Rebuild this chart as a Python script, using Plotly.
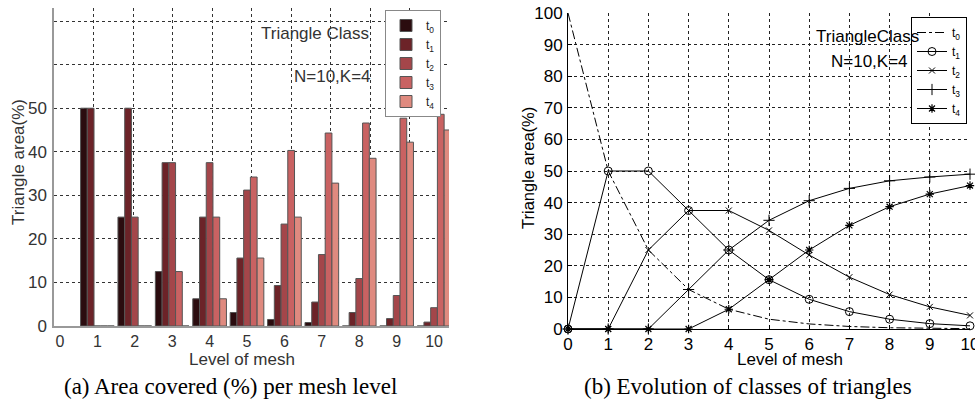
import plotly.graph_objects as go

# ---------------- data ----------------
bar_levels = [1, 2, 3, 4, 5, 6, 7, 8, 9, 10]
bar_t0 = [50, 25, 12.5, 6.25, 3.1, 1.5, 0.8, 0, 0, 0]
bar_t1 = [50, 50, 37.5, 25, 15.6, 9.3, 5.5, 3.1, 1.7, 0.9]
bar_t2 = [0, 25, 37.5, 37.5, 31.2, 23.4, 16.4, 10.9, 7.0, 4.2]
bar_t3 = [0, 0, 12.5, 25, 34.2, 40.3, 44.3, 46.6, 47.7, 48.6]
bar_t4 = [0, 0, 0, 6.25, 15.6, 25, 32.8, 38.5, 42.2, 45.0]

line_levels = [0, 1, 2, 3, 4, 5, 6, 7, 8, 9, 10]
line_t0 = [100, 50, 25, 12.5, 6.25, 3.1, 1.6, 0.8, 0.4, 0.2, 0.1]
line_t1 = [0, 50, 50, 37.5, 25, 15.6, 9.4, 5.5, 3.1, 1.7, 1.0]
line_t2 = [0, 0, 25, 37.5, 37.5, 31.2, 23.4, 16.4, 10.9, 7.0, 4.3]
line_t3 = [0, 0, 0, 12.5, 25, 34.4, 40.6, 44.5, 46.9, 48.1, 49.0]
line_t4 = [0, 0, 0, 0, 6.25, 15.6, 25, 32.8, 38.7, 42.7, 45.4]

series_names = ["t<sub>0</sub>", "t<sub>1</sub>", "t<sub>2</sub>", "t<sub>3</sub>", "t<sub>4</sub>"]
x_ticks = [0, 1, 2, 3, 4, 5, 6, 7, 8, 9, 10]
bar_y_ticks = [0, 10, 20, 30, 40, 50, 60, 70]
bar_y_text = ["0", "10", "20", "30", "40", "50", " ", " "]
line_y_ticks = [0, 10, 20, 30, 40, 50, 60, 70, 80, 90, 100]

bar_colors = ["#2b0c0f", "#6c2328", "#a4464a", "#c96262", "#df8a7f"]

W, H = 975, 402
def px(x):
    return x / W
def py(y):
    return 1 - y / H

SANS = "Liberation Sans, Arial, sans-serif"
SERIF = "Liberation Serif, Times New Roman, serif"

fig = go.Figure()

# ---------- left: grouped bars ----------
for vals, name, col in zip([bar_t0, bar_t1, bar_t2, bar_t3, bar_t4], series_names, bar_colors):
    fig.add_trace(go.Bar(
        x=bar_levels, y=vals, name=name, marker=dict(color=col, line=dict(color="#555", width=1)),
        xaxis="x", yaxis="y", legend="legend",
    ))
# empty trace carrying the gridline axis
fig.add_trace(go.Scatter(x=[], y=[], xaxis="x3", yaxis="y", showlegend=False, hoverinfo="skip"))

# ---------- right: lines ----------
line_specs = [
    (line_t0, dict(mode="lines", line=dict(color="black", width=1, dash="dashdot"))),
    (line_t1, dict(mode="lines+markers", line=dict(color="black", width=1),
                   marker=dict(symbol="circle-open", size=8, color="black", line=dict(width=1, color="black")))),
    (line_t2, dict(mode="lines+markers", line=dict(color="black", width=1),
                   marker=dict(symbol="x-thin-open", size=6, color="black", line=dict(width=1, color="black")))),
    (line_t3, dict(mode="lines+markers", line=dict(color="black", width=1),
                   marker=dict(symbol="cross-thin-open", size=8, color="black", line=dict(width=1, color="black")))),
    (line_t4, dict(mode="lines+markers", line=dict(color="black", width=1),
                   marker=dict(symbol="asterisk-open", size=7, color="black", line=dict(width=1.2, color="black")))),
]
for (vals, style), name in zip(line_specs, series_names):
    fig.add_trace(go.Scatter(x=line_levels, y=vals, name=name, xaxis="x2", yaxis="y2",
                             legend="legend2", cliponaxis=False, **style))

grid_l = dict(showgrid=True, gridcolor="#333", griddash="dot", gridwidth=1)
grid_r = dict(showgrid=True, gridcolor="#222", griddash="dot", gridwidth=1)

fig.update_layout(
    width=W, height=H,
    margin=dict(l=0, r=0, t=0, b=0, pad=0, autoexpand=False),
    paper_bgcolor="white", plot_bgcolor="white",
    font=dict(family=SANS, color="#222"),
    barmode="group", bargap=0.1, bargroupgap=0,
    xaxis=dict(domain=[px(54), px(449)], anchor="y", range=[-0.16, 10.4], automargin=False,
               tickvals=x_ticks, showgrid=False, zeroline=False,
               showline=True, linecolor="#999", linewidth=1.5, ticks="",
               tickfont=dict(size=16, color="#333"), ticklabelstandoff=0),
    xaxis3=dict(overlaying="x", anchor="y", range=[0, 10], dtick=1, showticklabels=False,
                automargin=False, ticks="", zeroline=False, showline=False, **grid_l),
    yaxis=dict(domain=[py(326), py(8)], anchor="x", range=[0, 73], automargin=False,
               tickvals=bar_y_ticks, ticktext=bar_y_text, zeroline=False,
               showline=True, linecolor="#999", linewidth=1.5, ticks="",
               tickfont=dict(size=17, color="#333"), ticklabelstandoff=2, **grid_l),
    xaxis2=dict(domain=[px(568), px(970)], anchor="y2", range=[0, 10], tickvals=x_ticks,
                automargin=False, zeroline=False, showline=True, linecolor="black", linewidth=1,
                ticks="inside", ticklen=4, tickcolor="black", ticklabeloverflow="allow",
                tickfont=dict(size=17, color="black"), ticklabelstandoff=0, **grid_r),
    yaxis2=dict(domain=[py(329), py(13)], anchor="x2", range=[0, 100], tickvals=line_y_ticks,
                automargin=False, zeroline=False, showline=True, linecolor="black", linewidth=1,
                ticks="inside", ticklen=4, tickcolor="black", ticklabeloverflow="allow",
                tickfont=dict(size=17, color="black"), ticklabelstandoff=1, **grid_r),
    legend=dict(x=px(441), xanchor="right", y=py(10), yanchor="top",
                bgcolor="white", bordercolor="#888", borderwidth=1,
                font=dict(size=12, color="#222"), tracegroupgap=0, itemwidth=30),
    legend2=dict(x=px(967), xanchor="right", y=py(17), yanchor="top",
                 bgcolor="white", bordercolor="black", borderwidth=1,
                 font=dict(size=12, color="black"), tracegroupgap=0, itemwidth=30),
)

annotations = [
    # left chart texts
    dict(text="Triangle area(%)", x=px(18), y=py(162), textangle=-90, font=dict(size=17, color="#333")),
    dict(text="Level of mesh", x=px(242), y=py(359), font=dict(size=17, color="#333")),
    dict(text="Triangle Class", x=px(315), y=py(33), font=dict(size=17, color="#333")),
    dict(text="N=10,K=4", x=px(332), y=py(77), font=dict(size=17, color="#333")),
    dict(text="(a) Area covered (%) per mesh level", x=px(230), y=py(386),
         font=dict(size=23, color="black", family=SERIF)),
    # right chart texts
    dict(text="Triangle area(%)", x=px(528), y=py(168), textangle=-90, font=dict(size=16.5, color="black")),
    dict(text="Level of mesh", x=px(790), y=py(359), font=dict(size=17, color="black")),
    dict(text="TriangleClass", x=px(867), y=py(37), font=dict(size=17, color="black")),
    dict(text="N=10,K=4", x=px(869), y=py(61), font=dict(size=17, color="black")),
    dict(text="(b) Evolution of classes of triangles", x=px(748), y=py(386),
         font=dict(size=23, color="black", family=SERIF)),
]
for a in annotations:
    a.update(xref="paper", yref="paper", showarrow=False, xanchor="center", yanchor="middle")
fig.update_layout(annotations=annotations)

fig.write_html("out.html", config={"displayModeBar": False},
               post_script="document.body.style.margin='0px';")
